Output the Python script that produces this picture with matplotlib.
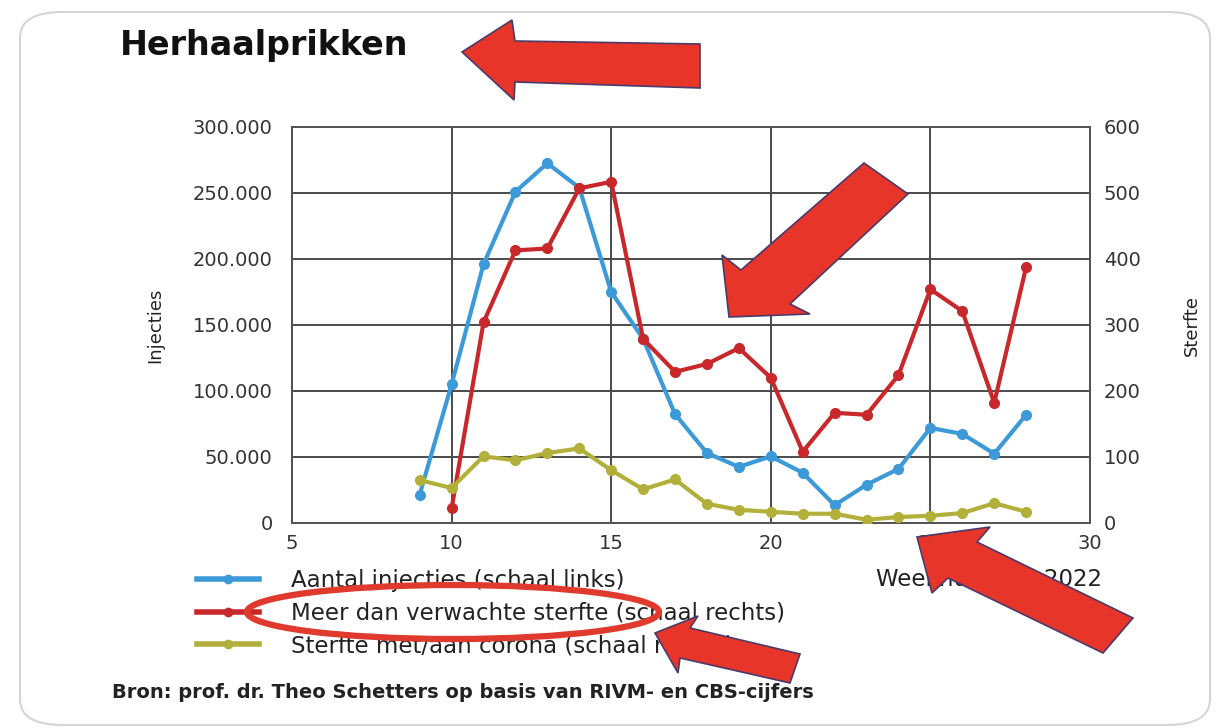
import matplotlib.pyplot as plt
from matplotlib.patches import Polygon, Ellipse, FancyBboxPatch
from matplotlib.lines import Line2D
from matplotlib.ticker import FuncFormatter

# week numbers 2022
weeks = [9, 10, 11, 12, 13, 14, 15, 16, 17, 18, 19, 20, 21, 22, 23, 24, 25, 26, 27, 28]
injecties = [21500, 105000, 196000, 251000, 272500, 254000, 175000, 139500, 82500, 53000,
             42500, 50500, 38000, 13500, 29000, 41000, 72000, 67500, 52500, 82000]
weeks_red = [10, 11, 12, 13, 14, 15, 16, 17, 18, 19, 20, 21, 22, 23, 24, 25, 26, 27, 28]
meer_sterfte = [22, 304, 413, 416, 507, 517, 279, 229, 241, 265, 220, 108, 167, 164, 224,
                354, 321, 182, 388]
corona_sterfte = [65, 53, 101, 95, 106, 113, 80, 51, 66, 29, 20, 17, 14, 14, 5, 9, 11, 15, 30, 17]

labels = ['Aantal injecties (schaal links)',
          'Meer dan verwachte sterfte (schaal rechts)',
          'Sterfte met/aan corona (schaal rechts)']

blue = '#3d9ad8'
red = '#c9282b'
olive = '#b2b03a'
gridc = '#4a4a4a'

W, H = 1230, 728
fig = plt.figure(figsize=(W / 100, H / 100), dpi=100)
plt.rcParams['font.family'] = ['DejaVu Sans']

def px(x, y):
    return (x / W, 1 - y / H)

# rounded card border
card = FancyBboxPatch(px(20, 725), 1190 / W, 713 / H, boxstyle='round,pad=0,rounding_size=0.035',
                      transform=fig.transFigure, facecolor='none', edgecolor='#d5d5d5', lw=1.5, zorder=-1)
fig.patches.append(card)

ax = fig.add_axes([292 / W, 1 - 523 / H, (1090 - 292) / W, (523 - 127) / H])
ax2 = ax.twinx()

ax.plot(weeks, injecties, color=blue, lw=3, marker='o', ms=7, zorder=3)
ax2.plot(weeks_red, meer_sterfte, color=red, lw=3, marker='o', ms=7, zorder=3)
ax2.plot(weeks, corona_sterfte, color=olive, lw=3, marker='o', ms=7, zorder=3)

ax.set_xlim(5, 30)
ax.set_ylim(0, 300000)
ax2.set_ylim(0, 600)
ax.set_xticks([5, 10, 15, 20, 25, 30])
ax.set_yticks(range(0, 300001, 50000))
ax2.set_yticks(range(0, 601, 100))
ax.yaxis.set_major_formatter(FuncFormatter(lambda v, p: f'{int(v):,}'.replace(',', '.')))
ax.grid(True, color=gridc, lw=1.4)
ax.set_axisbelow(True)
for a in (ax, ax2):
    for s in a.spines.values():
        s.set_color('#555555')
        s.set_linewidth(1.4)
    a.tick_params(length=0, labelsize=14, labelcolor='#333333')
ax.tick_params(axis='y', pad=14)
ax.tick_params(axis='x', pad=8)
ax2.tick_params(axis='y', pad=10)
ax.set_ylabel('Injecties', fontsize=13, labelpad=20, color='#222222')
ax2.set_ylabel('Sterfte', fontsize=13, labelpad=30, color='#222222')

fig.text(120 / W, 1 - 45 / H, 'Herhaalprikken', fontsize=24, fontweight='bold', va='center', color='#111111')

handles = [Line2D([], [], color=c, lw=4, marker='o', ms=6) for c in (blue, red, olive)]
fig.legend(handles, labels, loc='upper left', bbox_to_anchor=px(197, 569), frameon=False,
           fontsize=16.5, handlelength=2.7, handletextpad=1.4, labelspacing=0.42, borderpad=0,
           borderaxespad=0, labelcolor='#222222')
fig.text(1102 / W, 1 - 580 / H, 'Weeknummer 2022', fontsize=16.5, ha='right', va='center', color='#222222')
fig.text(112 / W, 1 - 692 / H, 'Bron: prof. dr. Theo Schetters op basis van RIVM- en CBS-cijfers',
         fontsize=14, fontweight='semibold', va='center', color='#222222')

# red annotation arrows and ellipse drawn on top of the chart
arrows = [
    [(462, 52), (512, 20), (515, 41), (700, 44), (700, 88), (515, 82), (514, 100)],
    [(729, 317), (722, 255), (741, 270), (864, 163), (908, 194), (790, 304), (810, 314)],
    [(917, 537), (990, 527), (977, 542), (1133, 618), (1103, 653), (948, 578), (932, 593)],
    [(655, 633), (698, 616), (690, 628), (800, 654), (790, 683), (680, 658), (678, 673)],
]
for pts in arrows:
    poly = Polygon([px(x, y) for x, y in pts], closed=True, transform=fig.transFigure,
                   facecolor='#e8352a', edgecolor='#4a3a6a', lw=1.2, zorder=10)
    fig.patches.append(poly)

ell = Ellipse(px(453, 612), 412 / W, 54 / H, transform=fig.transFigure, fill=False,
              edgecolor='#e03a2e', lw=4.5, zorder=10)
fig.patches.append(ell)

fig.savefig('out.png', dpi=100)
